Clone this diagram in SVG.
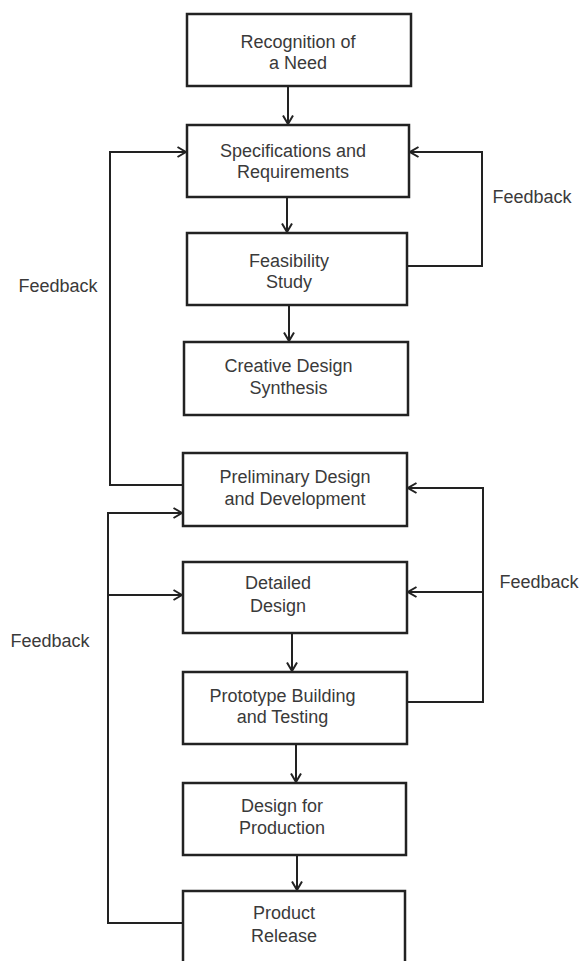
<svg xmlns="http://www.w3.org/2000/svg" width="582" height="961" viewBox="0 0 582 961">
<defs>
<marker id="arr" viewBox="0 0 10 12" refX="9.5" refY="6" markerWidth="10" markerHeight="12" markerUnits="userSpaceOnUse" orient="auto">
<path d="M1,1 L9.5,6 L1,11" fill="none" stroke="#222" stroke-width="2"/>
</marker>
<style>
.box{fill:#fff;stroke:#222;stroke-width:2.5}
.t{font-family:"Liberation Sans",Arial,sans-serif;font-size:18px;fill:#3a3a3a;text-anchor:middle}
.c{fill:none;stroke:#222;stroke-width:2}
.a{marker-end:url(#arr)}
</style>
</defs>
<rect width="582" height="961" fill="#fff"/>
<g id="connectors">
<line class="c a" x1="288" y1="86" x2="288" y2="124"/>
<line class="c a" x1="287" y1="197" x2="287" y2="232"/>
<line class="c a" x1="289" y1="305" x2="289" y2="341"/>
<line class="c a" x1="292" y1="633" x2="292" y2="671"/>
<line class="c a" x1="296" y1="744" x2="296" y2="782"/>
<line class="c a" x1="297" y1="855" x2="297" y2="890"/>
<polyline class="c a" points="407,266 482,266 482,152 410,152"/>
<polyline class="c a" points="407,702 483,702 483,488 408,488"/>
<line class="c a" x1="483" y1="592" x2="408" y2="592"/>
<polyline class="c a" points="183,485 110,485 110,152 186,152"/>
<polyline class="c a" points="183,923 108,923 108,513 182,513"/>
<line class="c a" x1="108" y1="595" x2="182" y2="595"/>
</g>
<g id="n1"><rect class="box" x="187" y="14" width="224" height="72"/><text class="t" x="298" y="48">Recognition of</text><text class="t" x="298" y="69">a Need</text></g>
<g id="n2"><rect class="box" x="187" y="125" width="222" height="72"/><text class="t" x="293" y="157">Specifications and</text><text class="t" x="293" y="178">Requirements</text></g>
<g id="n3"><rect class="box" x="187" y="233" width="220" height="72"/><text class="t" x="289" y="267">Feasibility</text><text class="t" x="289" y="288">Study</text></g>
<g id="n4"><rect class="box" x="184" y="342" width="224" height="73"/><text class="t" x="288.5" y="372">Creative Design</text><text class="t" x="288.5" y="394">Synthesis</text></g>
<g id="n5"><rect class="box" x="183" y="453" width="224" height="73"/><text class="t" x="295" y="483">Preliminary Design</text><text class="t" x="295" y="505">and Development</text></g>
<g id="n6"><rect class="box" x="183" y="562" width="224" height="71"/><text class="t" x="278" y="589">Detailed</text><text class="t" x="278" y="612">Design</text></g>
<g id="n7"><rect class="box" x="183" y="672" width="224" height="72"/><text class="t" x="282.5" y="702">Prototype Building</text><text class="t" x="282.5" y="723">and Testing</text></g>
<g id="n8"><rect class="box" x="183" y="783" width="223" height="72"/><text class="t" x="282" y="812">Design for</text><text class="t" x="282" y="834">Production</text></g>
<g id="n9"><rect class="box" x="183" y="891" width="222" height="80"/><text class="t" x="284" y="919">Product</text><text class="t" x="284" y="942">Release</text></g>
<g id="labels">
<text class="t" x="58" y="292">Feedback</text>
<text class="t" x="50" y="647">Feedback</text>
<text class="t" x="532" y="203">Feedback</text>
<text class="t" x="539" y="588">Feedback</text>
</g>
</svg>
